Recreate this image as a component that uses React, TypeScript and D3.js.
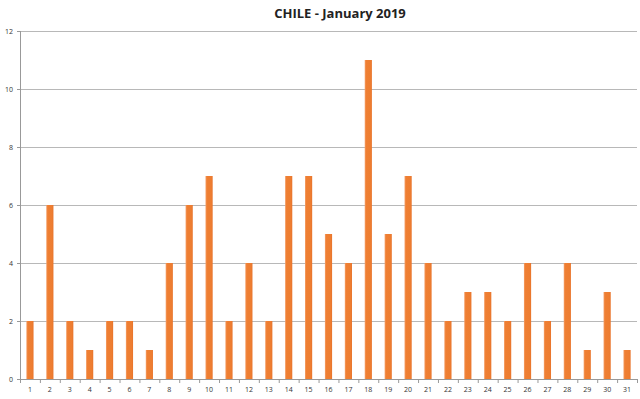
import React from 'react';
import * as d3 from 'd3';

const days = d3.range(1, 32).map(String);
const counts = [2, 6, 2, 1, 2, 2, 1, 4, 6, 7, 2, 4, 2, 7, 7, 5, 4, 11, 5, 7, 4, 2, 3, 3, 2, 4, 2, 4, 1, 3, 1];
const yTicks = [0, 2, 4, 6, 8, 10, 12];

const App = () => {
  const width = 640;
  const height = 399;
  const margin = { top: 31, right: 3, bottom: 20, left: 20 };

  const x = d3.scaleBand().domain(days).range([margin.left, width - margin.right]).paddingInner(0.64).paddingOuter(0.32);
  const y = d3.scaleLinear().domain([0, 12]).range([height - margin.bottom, margin.top]);
  const step = x.step();
  const x0 = margin.left;

  return (
    <>
      <style>{`body { margin: 0; } svg { display: block; }`}</style>
      <svg width={width} height={height} style={{ fontFamily: 'Open Sans, sans-serif' }}>
        <defs>
          <linearGradient id="bar" x1="0" x2="1" y1="0" y2="0">
            <stop offset="0" stopColor="#f4a06a" />
            <stop offset="0.2" stopColor="#ef7f33" />
            <stop offset="0.8" stopColor="#ed7d31" />
            <stop offset="1" stopColor="#e8732a" />
          </linearGradient>
        </defs>
        <text x={340} y={18} textAnchor="middle" fontSize={13} fontWeight="bold" fill="#222">
          CHILE - January 2019
        </text>
        {yTicks.map(t => (
          <g key={t}>
            {t > 0 && <line x1={margin.left} x2={width - margin.right} y1={y(t) + 0.5} y2={y(t) + 0.5} stroke="#b8b8b8" />}
            <line x1={margin.left - 3} x2={margin.left} y1={y(t) + 0.5} y2={y(t) + 0.5} stroke="#999" />
            <text x={margin.left - 7} y={y(t) + 2.5} textAnchor="end" fontSize={7} fill="#333">{t}</text>
          </g>
        ))}
        {counts.map((v, i) => (
          <rect key={i} x={x(days[i])} y={y(v)} width={x.bandwidth()} height={y(0) - y(v)} fill="url(#bar)" />
        ))}
        <line x1={margin.left + 0.5} x2={margin.left + 0.5} y1={margin.top} y2={y(0)} stroke="#999" />
        <line x1={margin.left} x2={width - margin.right} y1={y(0) + 0.5} y2={y(0) + 0.5} stroke="#999" />
        {d3.range(days.length + 1).map(i => (
          <line key={i} x1={x0 + i * step + 0.5} x2={x0 + i * step + 0.5} y1={y(0)} y2={y(0) + 4} stroke="#999" />
        ))}
        {days.map(d => (
          <text key={d} x={(x(d) ?? 0) + x.bandwidth() / 2} y={y(0) + 13} textAnchor="middle" fontSize={7} fill="#333">{d}</text>
        ))}
      </svg>
    </>
  );
};

export default App;
